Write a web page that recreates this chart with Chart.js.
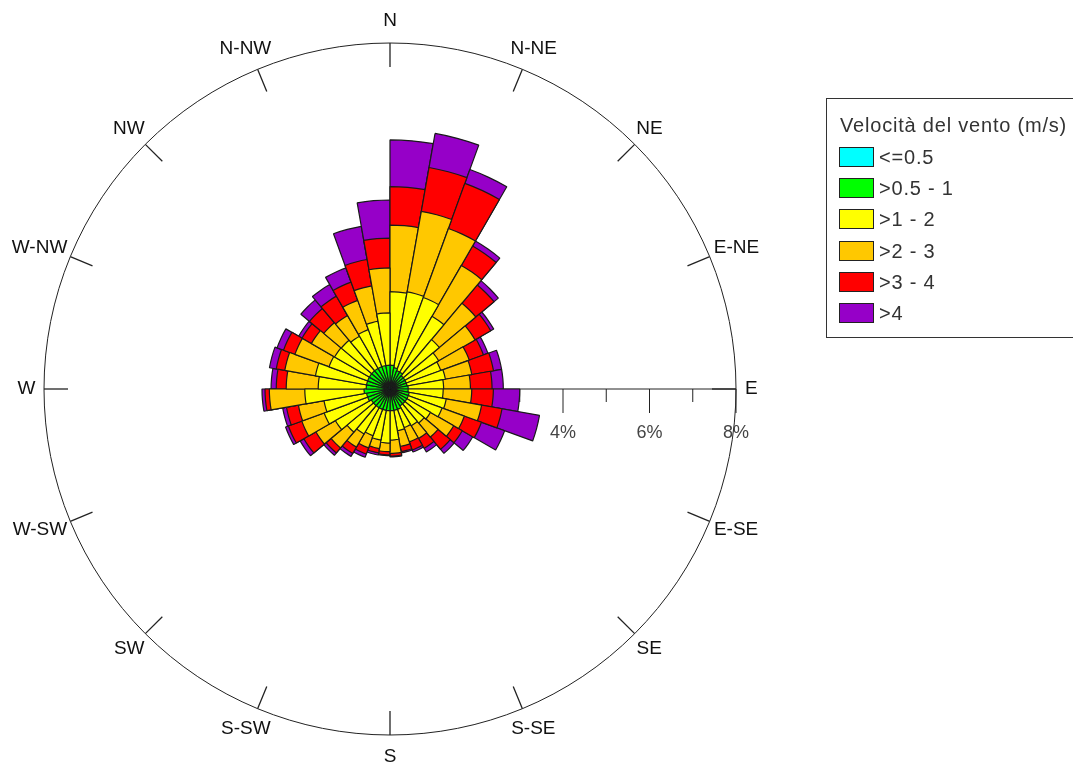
<!DOCTYPE html>
<html>
<head>
<meta charset="utf-8">
<title>Rosa dei venti</title>
<script src="https://cdn.jsdelivr.net/npm/chart.js@4.4.1/dist/chart.umd.min.js"></script>
<style>
  html, body { margin: 0; padding: 0; background: #fff; }
  #wrap { position: relative; width: 1073px; height: 764px; overflow: hidden; }
  #rose { position: absolute; left: 0; top: 0; }
  .lg { position: absolute; font-family: "Liberation Sans", Arial, sans-serif; color: #333; font-size: 20px; line-height: 22px; letter-spacing: 0.8px; white-space: nowrap; }
  #legendBox { position: absolute; left: 826px; top: 98px; width: 300px; height: 240px; border: 1px solid #333; box-sizing: border-box; }
  .sw { position: absolute; width: 35px; height: 20px; border: 1px solid #222; box-sizing: border-box; }
</style>
</head>
<body>
<div id="wrap">
  <canvas id="rose" width="1073" height="764"></canvas>
  <div id="legendBox"></div>
</div>
<script>
// 36 sectors of 10 degrees, clockwise from north
const SECTORS = ['0°','10°','20°','30°','40°','50°','60°','70°','80°','90°','100°','110°',
  '120°','130°','140°','150°','160°','170°','180°','190°','200°','210°','220°','230°',
  '240°','250°','260°','270°','280°','290°','300°','310°','320°','330°','340°','350°'];

const LEGEND_TITLE = 'Velocità del vento (m/s)';
const CLASS_LABELS = ['<=0.5', '>0.5 - 1', '>1 - 2', '>2 - 3', '>3 - 4', '>4'];
const CLASS_COLORS = ['#00ffff', '#00ff00', '#ffff00', '#ffc800', '#ff0000', '#9600c8'];

// frequency (%) of each speed class per sector
const FREQ_CALM = [0.05,0.05,0.05,0.05,0.05,0.05,0.05,0.05,0.05,0.05,0.05,0.05,
  0.05,0.05,0.05,0.05,0.05,0.05,0.05,0.05,0.05,0.05,0.05,0.05,
  0.05,0.05,0.05,0.05,0.05,0.05,0.05,0.05,0.05,0.05,0.05,0.05];
const FREQ_05_1 = [0.50,0.45,0.40,0.40,0.35,0.35,0.35,0.35,0.37,0.37,0.40,0.40,
  0.40,0.40,0.40,0.45,0.45,0.45,0.45,0.45,0.45,0.45,0.45,0.45,
  0.50,0.50,0.55,0.50,0.50,0.50,0.50,0.50,0.50,0.50,0.50,0.50];
const FREQ_1_2 = [1.70,1.78,1.80,1.49,1.09,0.90,0.85,0.90,0.82,0.81,0.87,0.83,
  0.63,0.58,0.53,0.45,0.48,0.68,0.75,0.70,0.65,0.70,0.80,0.96,
  1.07,1.00,1.37,1.11,1.20,0.95,0.93,0.92,0.86,0.91,1.04,1.21];
const FREQ_2_3 = [1.54,1.89,1.70,1.36,1.10,0.97,0.70,0.62,0.62,0.66,0.83,0.55,
  0.62,0.42,0.34,0.35,0.37,0.31,0.20,0.20,0.30,0.35,0.48,0.52,
  0.55,0.60,0.82,0.74,0.72,0.84,0.62,0.53,0.55,0.72,0.83,1.04];
const FREQ_3_4 = [0.89,1.03,1.11,0.52,0.55,0.42,0.35,0.51,0.50,0.50,0.48,0.42,
  0.23,0.37,0.26,0.20,0.12,0.06,0.07,0.10,0.15,0.17,0.15,0.32,
  0.33,0.28,0.10,0.23,0.20,0.28,0.25,0.43,0.52,0.45,0.62,0.69];
const FREQ_OVER_4 = [1.08,0.80,0.34,0.13,0.13,0.08,0.11,0.19,0.26,0.61,0.88,0.57,
  0.28,0.12,0.10,0.05,0.03,0.02,0.02,0.05,0.08,0.08,0.07,0.10,
  0.07,0.09,0.07,0.12,0.16,0.16,0.09,0.26,0.31,0.35,0.78,0.88];

const DIRECTIONS = ['N','N-NE','NE','E-NE','E','E-SE','SE','S-SE','S','S-SW','SW','W-SW','W','W-NW','NW','N-NW'];
const RADIAL_TICKS = [1, 2, 3, 4, 5, 6, 7, 8];
const RADIAL_LABELS = { 2: '2%', 4: '4%', 6: '6%', 8: '8%' };
const RADIAL_MAX = 8;

const FONT = '"Liberation Sans", Arial, sans-serif';

// stack the classes: each dataset holds the running total, smallest drawn on top
const classes = [FREQ_CALM, FREQ_05_1, FREQ_1_2, FREQ_2_3, FREQ_3_4, FREQ_OVER_4];
const cumulative = [];
classes.forEach((arr, k) => {
  cumulative.push(arr.map((v, i) => (k ? cumulative[k - 1][i] : 0) + v));
});

const compassPlugin = {
  id: 'compass',
  beforeDatasetsDraw(chart) {
    const sc = chart.scales.r;
    const ctx = chart.ctx;
    const cx = sc.xCenter, cy = sc.yCenter;
    const R = sc.getDistanceFromCenterForValue(RADIAL_MAX);
    ctx.save();
    ctx.strokeStyle = '#222';
    ctx.lineWidth = 1;
    ctx.beginPath();
    ctx.arc(cx, cy, R, 0, Math.PI * 2);
    ctx.stroke();

    // axis along east with percent ticks
    ctx.beginPath();
    ctx.moveTo(cx, cy);
    ctx.lineTo(cx + R, cy);
    ctx.stroke();
    ctx.fillStyle = '#444';
    ctx.font = '18px ' + FONT;
    ctx.textAlign = 'center';
    ctx.textBaseline = 'middle';
    RADIAL_TICKS.forEach(v => {
      const x = cx + sc.getDistanceFromCenterForValue(v);
      const major = RADIAL_LABELS[v] !== undefined;
      ctx.beginPath();
      ctx.moveTo(x, cy);
      ctx.lineTo(x, cy + (major ? 24 : 13));
      ctx.stroke();
      if (major) ctx.fillText(RADIAL_LABELS[v], x, cy + 44);
    });

    // compass ticks and names, each name pushed out so its box clears the circle
    ctx.fillStyle = '#111';
    ctx.font = '19px ' + FONT;
    ctx.lineWidth = 1.3;
    DIRECTIONS.forEach((name, i) => {
      const a = i * 22.5 * Math.PI / 180;
      const sx = Math.sin(a), sy = -Math.cos(a);
      ctx.beginPath();
      ctx.moveTo(cx + sx * R, cy + sy * R);
      ctx.lineTo(cx + sx * (R - 24), cy + sy * (R - 24));
      ctx.stroke();
      const w = ctx.measureText(name).width;
      const lx = cx + sx * (R + 10) + sx * w * 0.42;
      const ly = cy + sy * (R + 11) + sy * 11;
      ctx.fillText(name, lx, ly);
    });
    ctx.restore();
  }
};

new Chart(document.getElementById('rose'), {
  type: 'polarArea',
  data: {
    labels: SECTORS,
    datasets: cumulative.map((vals, k) => ({
      label: CLASS_LABELS[k],
      data: vals,
      backgroundColor: CLASS_COLORS[k],
      borderColor: '#1a1a1a',
      borderWidth: 1.2
    }))
  },
  options: {
    responsive: false,
    animation: false,
    layout: { padding: { left: 44, top: 43, right: 337, bottom: 29 } },
    scales: {
      r: {
        min: 0,
        max: RADIAL_MAX,
        startAngle: 0,
        ticks: { display: false },
        grid: { display: false },
        angleLines: { display: false },
        pointLabels: { display: false }
      }
    },
    plugins: {
      legend: { display: false },
      tooltip: { enabled: false }
    }
  },
  plugins: [compassPlugin]
});

// legend box on the right
const wrap = document.getElementById('wrap');
function addText(txt, left, centerY) {
  const d = document.createElement('div');
  d.className = 'lg';
  d.textContent = txt;
  d.style.left = left + 'px';
  d.style.top = (centerY - 11) + 'px';
  wrap.appendChild(d);
}
addText(LEGEND_TITLE, 840, 124.5);
CLASS_LABELS.forEach((lab, k) => {
  const cy = 157 + k * 31.2;
  const sw = document.createElement('div');
  sw.className = 'sw';
  sw.style.left = '839px';
  sw.style.top = (cy - 10) + 'px';
  sw.style.background = CLASS_COLORS[k];
  wrap.appendChild(sw);
  addText(lab, 879, cy);
});
</script>
</body>
</html>
